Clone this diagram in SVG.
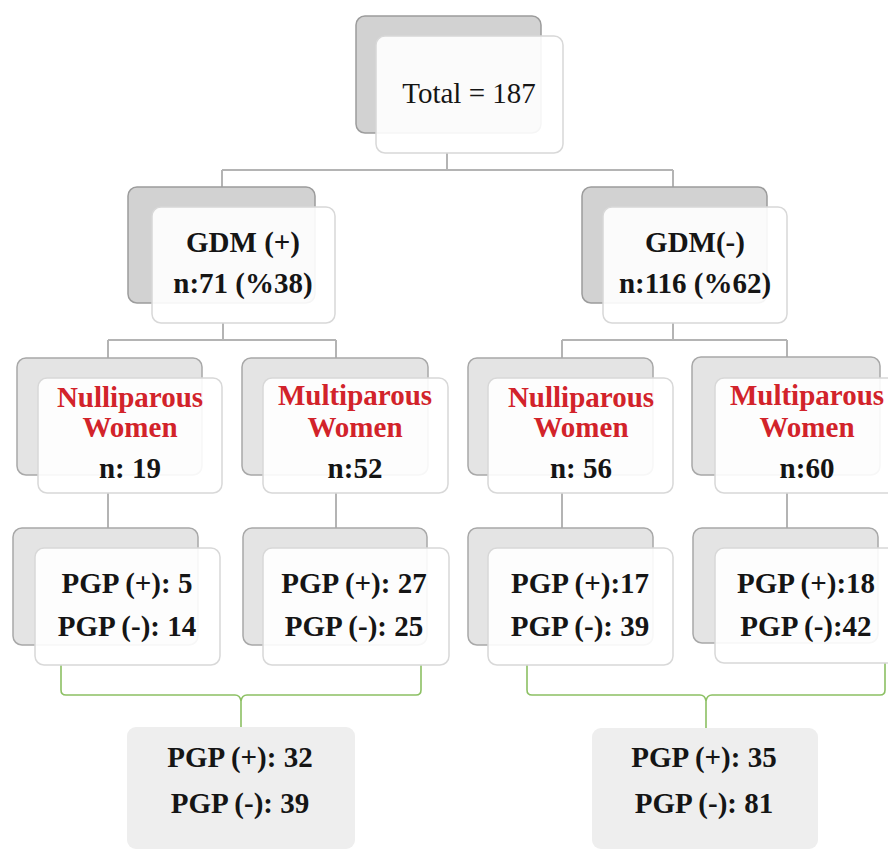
<svg xmlns="http://www.w3.org/2000/svg" width="888" height="852" viewBox="0 0 888 852">
<defs>
<style>
.bk1{fill:#d2d2d2;stroke:#9c9c9c;stroke-width:1.5}
.bk2{fill:#e4e4e4;stroke:#a8a8a8;stroke-width:1.5}
.fr{fill:#ffffff;fill-opacity:0.9;stroke:#d8d8d8;stroke-width:1.5}
.sum{fill:#eeeeee;stroke:none}
.con{fill:none;stroke:#b4b4b4;stroke-width:2}
.grn{fill:none;stroke:#8cc063;stroke-width:1.6}
.t{font-family:'Liberation Serif','DejaVu Serif',serif;text-anchor:middle;fill:#151515}
.b{font-weight:bold;font-size:29px}
.r{fill:#d2232a;font-size:29px;font-weight:bold}
</style>
</defs>
<rect width="888" height="852" fill="#ffffff"/>
<g id="connectors">
<path class="con" d="M447,153 V170 M222,170 H673 M222,170 V187 M673,170 V187"/>
<path class="con" d="M223,323 V340 M108,340 H336 M108,340 V358 M336,340 V358"/>
<path class="con" d="M673,323 V340 M562,340 H787 M562,340 V358 M787,340 V357"/>
<path class="con" d="M108,493 V528 M336,493 V528 M562,493 V528 M787,493 V528"/>
<path class="grn" d="M61,665 V690 Q61,695 66,695 H235 Q240,695 241,701 V732 M421,665 V690 Q421,695 416,695 H247 Q242,695 241,701"/>
<path class="grn" d="M527,664 V690 Q527,695 532,695 H700 Q705,695 706,701 V732 M885,663 V690 Q885,695 880,695 H712 Q707,695 706,701"/>
</g>
<g id="total">
<rect class="bk1" x="356" y="16" width="185" height="117" rx="9"/>
<rect class="fr" x="376" y="36" width="187" height="117" rx="9"/>
<text class="t" x="469" y="103" font-size="29">Total = 187</text>
</g>
<g id="gdm-pos">
<rect class="bk1" x="128" y="187" width="187" height="116" rx="9"/>
<rect class="fr" x="152" y="207" width="183" height="116" rx="9"/>
<text class="t b" x="243" y="252">GDM (+)</text>
<text class="t b" x="243" y="293">n:71 (%38)</text>
</g>
<g id="gdm-neg">
<rect class="bk1" x="582" y="187" width="185" height="116" rx="9"/>
<rect class="fr" x="603" y="207" width="184" height="116" rx="9"/>
<text class="t b" x="695" y="252">GDM(-)</text>
<text class="t b" x="695" y="293">n:116 (%62)</text>
</g>
<g id="nulli-pos">
<rect class="bk2" x="17" y="358" width="185" height="117" rx="9"/>
<rect class="fr" x="38" y="378" width="184" height="115" rx="9"/>
<text class="t r" x="130" y="407">Nulliparous</text>
<text class="t r" x="130" y="437">Women</text>
<text class="t b" x="130" y="478">n: 19</text>
</g>
<g id="multi-pos">
<rect class="bk2" x="242" y="358" width="186" height="117" rx="9"/>
<rect class="fr" x="263" y="378" width="185" height="115" rx="9"/>
<text class="t r" x="355" y="405">Multiparous</text>
<text class="t r" x="355" y="437">Women</text>
<text class="t b" x="355" y="478">n:52</text>
</g>
<g id="nulli-neg">
<rect class="bk2" x="468" y="358" width="185" height="117" rx="9"/>
<rect class="fr" x="488" y="378" width="185" height="115" rx="9"/>
<text class="t r" x="581" y="407">Nulliparous</text>
<text class="t r" x="581" y="437">Women</text>
<text class="t b" x="581" y="478">n: 56</text>
</g>
<g id="multi-neg">
<rect class="bk2" x="692" y="357" width="188" height="118" rx="9"/>
<rect class="fr" x="715" y="378" width="185" height="115" rx="9"/>
<text class="t r" x="807" y="405">Multiparous</text>
<text class="t r" x="807" y="437">Women</text>
<text class="t b" x="807" y="478">n:60</text>
</g>
<g id="pgp-nulli-pos">
<rect class="bk2" x="13" y="528" width="185" height="117" rx="9"/>
<rect class="fr" x="35" y="548" width="185" height="117" rx="9"/>
<text class="t b" x="127" y="593">PGP (+): 5</text>
<text class="t b" x="127" y="636">PGP (-): 14</text>
</g>
<g id="pgp-multi-pos">
<rect class="bk2" x="243" y="528" width="184" height="117" rx="9"/>
<rect class="fr" x="263" y="548" width="186" height="117" rx="9"/>
<text class="t b" x="354" y="593">PGP (+): 27</text>
<text class="t b" x="354" y="636">PGP (-): 25</text>
</g>
<g id="pgp-nulli-neg">
<rect class="bk2" x="468" y="528" width="185" height="117" rx="9"/>
<rect class="fr" x="488" y="548" width="185" height="117" rx="9"/>
<text class="t b" x="580" y="593">PGP (+):17</text>
<text class="t b" x="580" y="636">PGP (-): 39</text>
</g>
<g id="pgp-multi-neg">
<rect class="bk2" x="693" y="528" width="185" height="115" rx="9"/>
<rect class="fr" x="715" y="548" width="185" height="115" rx="9"/>
<text class="t b" x="806" y="593">PGP (+):18</text>
<text class="t b" x="806" y="636">PGP (-):42</text>
</g>
<g id="sum-gdm-pos">
<rect class="sum" x="127" y="727" width="228" height="122" rx="9"/>
<text class="t b" x="240" y="767">PGP (+): 32</text>
<text class="t b" x="240" y="813">PGP (-): 39</text>
</g>
<g id="sum-gdm-neg">
<rect class="sum" x="592" y="728" width="226" height="121" rx="9"/>
<text class="t b" x="704" y="767">PGP (+): 35</text>
<text class="t b" x="704" y="813">PGP (-): 81</text>
</g>
</svg>
